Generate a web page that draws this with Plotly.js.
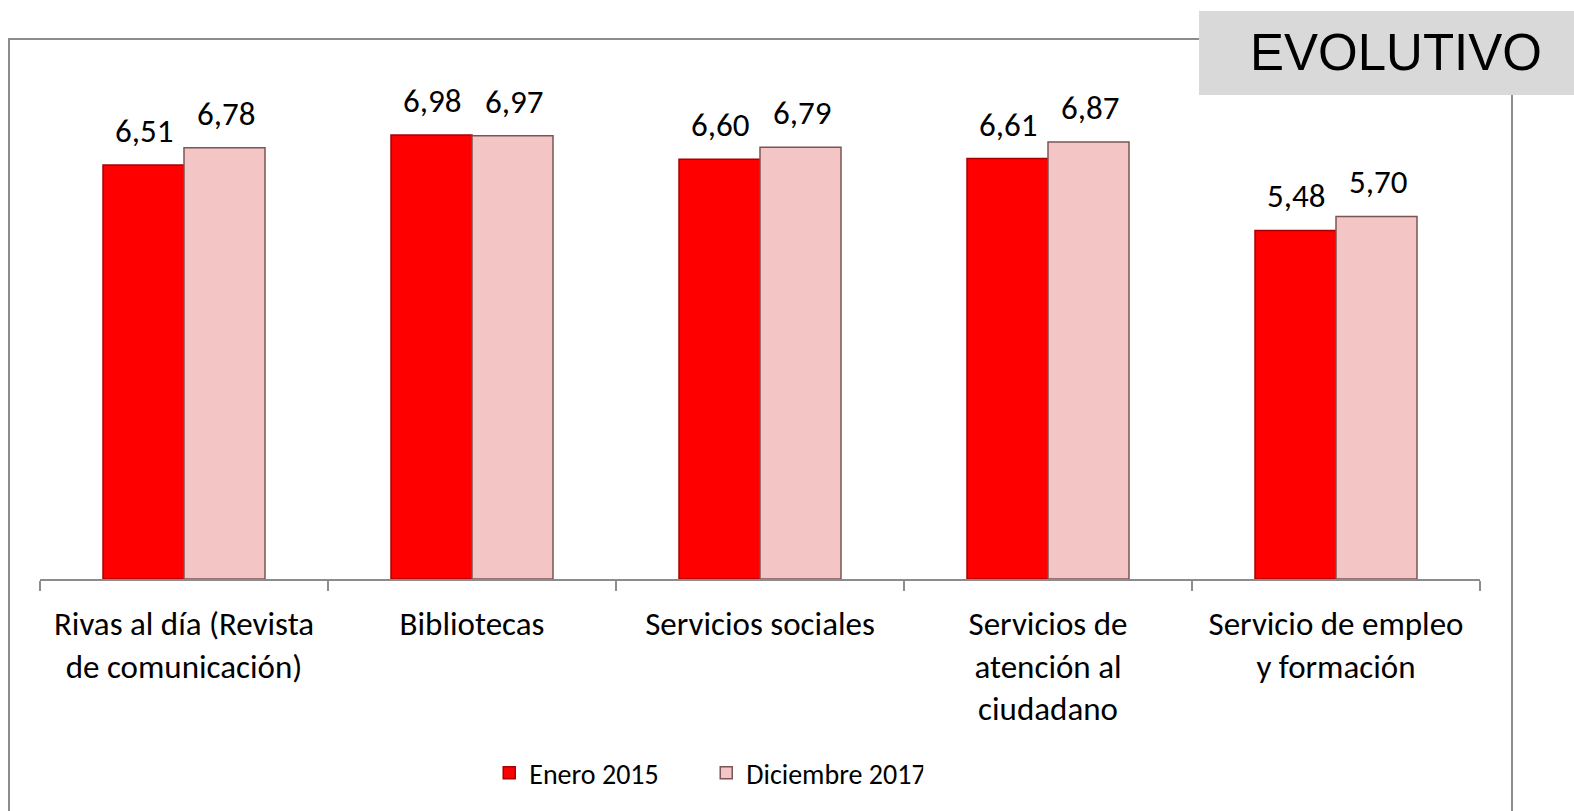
<!DOCTYPE html>
<html>
<head>
<meta charset="utf-8">
<script src="https://cdn.plot.ly/plotly-3.0.1.min.js"></script>
<style>
  html, body { margin: 0; padding: 0; background: #ffffff; }
  #chart { width: 1574px; height: 811px; }
</style>
</head>
<body>
<div id="chart"></div>
<script>
// ---- data ----
const categoryIds = ["rivas", "bibliotecas", "sociales", "atencion", "empleo"];
const categoryLabels = [
  "Rivas al día (Revista<br>de comunicación)",
  "Bibliotecas",
  "Servicios sociales",
  "Servicios de<br>atención al<br>ciudadano",
  "Servicio de empleo<br>y formación"
];
const seriesNames = ["Enero 2015", "Diciembre 2017"];
const enero2015 = [6.51, 6.98, 6.60, 6.61, 5.48];
const diciembre2017 = [6.78, 6.97, 6.79, 6.87, 5.70];
const badgeText = "EVOLUTIVO";

// ---- layout geometry ----
const W = 1574, H = 811;
const M = { l: 40, r: 94, t: 90, b: 232 };
const plotW = W - M.l - M.r, plotH = H - M.t - M.b;
const pxX = px => (px - M.l) / plotW;
const pxY = py => (H - M.b - py) / plotH;
const yMax = plotH / 63.6;

const FONT = "Carlito, Lato, 'Open Sans', sans-serif";
const fmt = v => v.toFixed(2).replace(".", ",");

const traces = [
  {
    type: "bar", name: seriesNames[0], x: categoryIds, y: enero2015,
    marker: { color: "#fe0000", line: { color: "#a80000", width: 1.5 } },
    hoverinfo: "skip"
  },
  {
    type: "bar", name: seriesNames[1], x: categoryIds, y: diciembre2017,
    marker: { color: "#f4c5c5", line: { color: "#7a5555", width: 1.5 } },
    hoverinfo: "skip"
  }
];

const annotations = [];
[enero2015, diciembre2017].forEach((vals, si) => {
  vals.forEach((v, i) => {
    annotations.push({
      x: categoryIds[i], y: v, xref: "x", yref: "y",
      text: fmt(v), showarrow: false, yanchor: "bottom", xanchor: "center",
      xshift: si === 0 ? -40 : 42, yshift: 12,
      font: { family: FONT, size: 33, color: "#000000" }
    });
  });
});
annotations.push({
  xref: "paper", yref: "paper", x: pxX(1396), y: pxY(53),
  xanchor: "center", yanchor: "middle", showarrow: false,
  text: badgeText,
  font: { family: "'Liberation Sans', Arial, sans-serif", size: 51, color: "#000000" }
});

const layout = {
  width: W, height: H,
  margin: M,
  paper_bgcolor: "#ffffff", plot_bgcolor: "rgba(0,0,0,0)",
  separators: ",.",
  barmode: "group", bargap: 0.4375, bargroupgap: 0,
  showlegend: true,
  legend: {
    orientation: "h", x: pxX(495) - 0.004, y: pxY(773), xanchor: "left", yanchor: "middle",
    font: { family: FONT, size: 28, color: "#000000" },
    bgcolor: "rgba(0,0,0,0)", traceorder: "normal",
    itemwidth: 30, entrywidth: 172, entrywidthmode: "pixels"
  },
  xaxis: {
    type: "category",
    tickmode: "array", tickvals: categoryIds, ticktext: categoryLabels,
    tickson: "boundaries", ticks: "outside", ticklen: 10, tickwidth: 2, tickcolor: "#8c8c8c",
    ticklabelstandoff: 14,
    showline: true, linecolor: "#8c8c8c", linewidth: 2,
    showgrid: false, zeroline: false,
    tickfont: { family: FONT, size: 33, color: "#000000" },
    fixedrange: true
  },
  yaxis: {
    range: [0, yMax], visible: false, showgrid: false, zeroline: false, fixedrange: true
  },
  shapes: [
    {
      type: "rect", xref: "paper", yref: "paper", layer: "below",
      x0: pxX(9), x1: pxX(1512), y0: pxY(830), y1: pxY(39),
      line: { color: "#8c8c8c", width: 2 }, fillcolor: "rgba(0,0,0,0)"
    },
    {
      type: "rect", xref: "paper", yref: "paper", layer: "above",
      x0: pxX(1199), x1: pxX(1580), y0: pxY(95), y1: pxY(11),
      line: { width: 0 }, fillcolor: "#d9d9d9"
    }
  ],
  annotations: annotations
};

Plotly.newPlot("chart", traces, layout, { displayModeBar: false, staticPlot: true });
</script>
</body>
</html>
